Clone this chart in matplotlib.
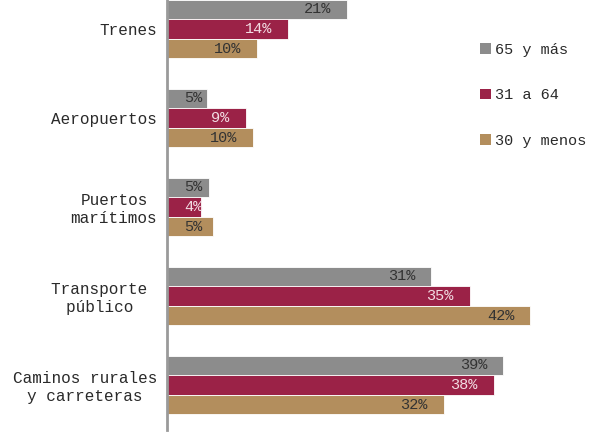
import matplotlib.pyplot as plt
import numpy as np
from matplotlib.patches import Patch

# categorias de arriba hacia abajo
categorias = ["Trenes", "Aeropuertos", "Puertos\nmarítimos",
              "Transporte \npúblico ", "Caminos rurales\ny carreteras"]
series = ["65 y más", "31 a 64", "30 y menos"]
colores = ["#8c8c8c", "#9b2247", "#b38e5d"]
colores_texto = ["#333333", "#f2dde3", "#333333"]

v65 = [20.9, 4.67, 4.9, 30.6, 38.97]
v31 = [14.06, 9.12, 3.9, 35.1, 37.86]
v30 = [10.43, 10.0, 5.37, 42.1, 32.06]
valores = [v65, v31, v30]

plt.rcParams['font.family'] = ['Liberation Mono', 'DejaVu Sans Mono']

fig = plt.figure(figsize=(5.95, 4.48), dpi=100)
ax = fig.add_axes([167/595, 18/448, 1 - 167/595, 430/448])

y = np.arange(len(categorias))
alto = 0.22
for k in range(3):
    pos = y + (k - 1)*alto
    ax.barh(pos, valores[k], height=alto, color=colores[k],
            edgecolor='white', linewidth=0.6)
    for p, v in zip(pos, valores[k]):
        txt = "%d%%" % round(v)
        if v < 7:
            ax.text(2.0, p, txt, ha='left', va='center', fontsize=11,
                    color=colores_texto[k])
        else:
            ax.text(v - 1.85, p, txt, ha='right', va='center', fontsize=11,
                    color=colores_texto[k])

ax.set_ylim(4.506, -0.326)
ax.set_xlim(0, 49.6)
ax.set_yticks(y)
ax.set_yticklabels(categorias, fontsize=11.5, multialignment='center',
                   color='#2a2a2a')
ax.tick_params(axis='y', length=0, pad=7)
ax.set_xticks([])
for s in ['top', 'right', 'bottom']:
    ax.spines[s].set_visible(False)
ax.spines['left'].set_color('#9a9a9a')
ax.spines['left'].set_linewidth(2)

handles = [Patch(facecolor=c) for c in colores]
leg = fig.legend(handles, series, loc='upper left',
                 bbox_to_anchor=(480/595, 1 - 43/448), frameon=False,
                 fontsize=11, handlelength=0.7, handleheight=0.7,
                 handletextpad=0.3, labelspacing=2.05, borderpad=0,
                 borderaxespad=0)
for t in leg.get_texts():
    t.set_color('#2a2a2a')

fig.savefig('out.png', dpi=100)
